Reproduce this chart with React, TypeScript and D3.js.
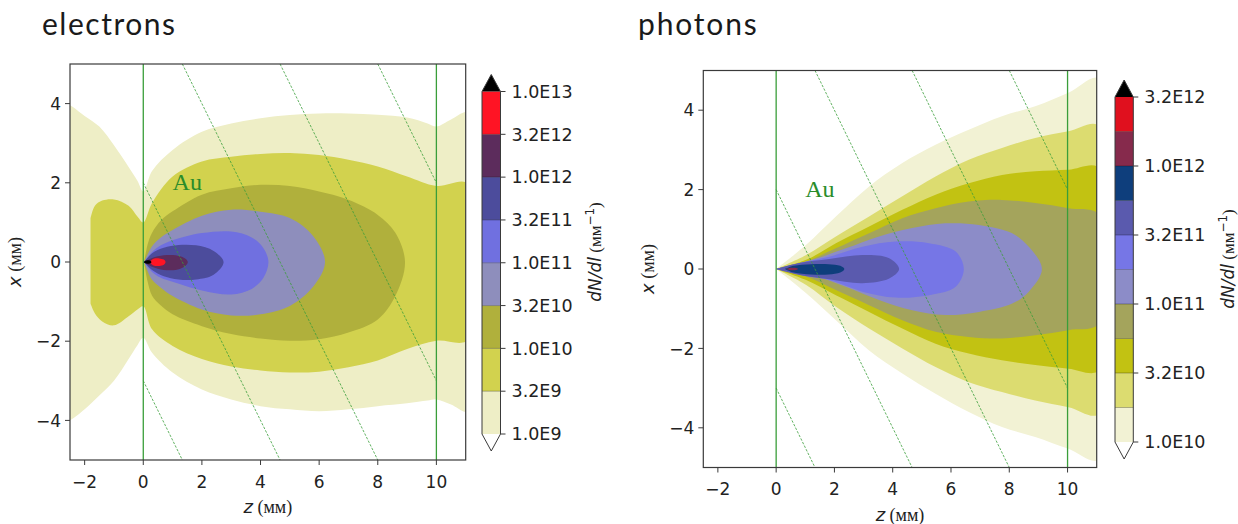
import React from 'react';
import * as d3 from 'd3';

// ---------- shared axis data ----------
const zTicks = [-2, 0, 2, 4, 6, 8, 10];
const xTicks = [-4, -2, 0, 2, 4];
const zDomain = [-2.5, 11];
const xDomain = [-5, 5];
const targetEdges = [0, 10];
const hatchOffsets = [-3, 2, 7, 12, 17];
const hatchSlope = -1.5;
const auPos = [1.0, 1.82];

// ---------- electrons ----------
const eLevelExp = [9, 9.5, 10, 10.5, 11, 11.5, 12, 12.5, 13];
const eLevelLabels = ['1.0E9', '3.2E9', '1.0E10', '3.2E10', '1.0E11', '3.2E11', '1.0E12', '3.2E12', '1.0E13'];
const eBandColors = ['#eeeec6', '#d2d24e', '#b0b03c', '#8e8ebc', '#7070e0', '#4c4c9c', '#5c2c5c', '#ff1424'];

const e0Z = [-2.6, -2.5, -2.0, -1.5, -1.0, -0.5, -0.2, 0, 0.3, 1, 2, 3, 4, 5, 6, 7, 8, 9, 9.7, 10, 10.5, 11.1];
const e0Top = [3.98, 3.96, 3.69, 3.42, 2.95, 2.4, 2.05, 1.78, 2.3, 2.83, 3.29, 3.5, 3.63, 3.71, 3.75, 3.75, 3.72, 3.65, 3.5, 3.42, 3.6, 3.77];
const e0Bot = [-4.02, -4.0, -3.72, -3.37, -3.0, -2.45, -2.1, -1.91, -2.29, -2.79, -3.22, -3.47, -3.64, -3.72, -3.77, -3.72, -3.64, -3.57, -3.5, -3.47, -3.6, -3.77];

const e1Z = [-1.8, -1.65, -1.4, -1.0, -0.5, -0.2, 0, 0.3, 1, 2, 3, 4, 5, 6, 7, 8, 9, 10, 11.1];
const e1Top = [1.1, 1.42, 1.55, 1.58, 1.42, 1.15, 1.0, 1.49, 2.16, 2.54, 2.66, 2.73, 2.75, 2.7, 2.58, 2.41, 2.16, 1.92, 1.97];
const e1Bot = [-1.05, -1.3, -1.5, -1.6, -1.37, -1.2, -1.12, -1.7, -2.12, -2.45, -2.64, -2.74, -2.79, -2.77, -2.66, -2.49, -2.2, -1.99, -1.96];

const e2Z = [0.03, 0.15, 0.3, 0.6, 1, 2, 3, 4, 5, 6, 7, 8, 8.6, 8.93];
const e2Top = [0, 0.45, 0.74, 1.05, 1.28, 1.7, 1.86, 1.95, 1.92, 1.78, 1.57, 1.19, 0.74, 0];
const e2Bot = [0, -0.5, -0.85, -1.1, -1.32, -1.62, -1.82, -1.93, -1.99, -1.95, -1.78, -1.45, -0.86, 0];

const e3Z = [0.03, 0.3, 0.6, 1, 2, 3, 4, 5, 5.8, 6.2];
const e3Top = [0, 0.4, 0.62, 0.81, 1.17, 1.32, 1.27, 1.11, 0.65, 0];
const e3Bot = [0, -0.45, -0.65, -0.86, -1.2, -1.35, -1.32, -1.11, -0.62, 0];

const e4Z = [0.03, 0.3, 0.6, 1, 2, 3, 3.7, 4.1, 4.27];
const e4Top = [0, 0.25, 0.42, 0.55, 0.73, 0.77, 0.62, 0.35, 0];
const e4Bot = [0, -0.25, -0.4, -0.5, -0.72, -0.82, -0.68, -0.4, 0];

const e5Z = [0.03, 0.3, 0.7, 1.2, 1.8, 2.4, 2.74];
const e5Top = [0, 0.22, 0.36, 0.43, 0.42, 0.28, 0];
const e5Bot = [0, -0.2, -0.36, -0.44, -0.44, -0.32, 0];

const e6Z = [0.03, 0.3, 0.7, 1.1, 1.4, 1.52];
const e6Top = [0, 0.1, 0.17, 0.17, 0.1, 0];
const e6Bot = [0, -0.12, -0.2, -0.2, -0.12, 0];

const e7Z = [0.22, 0.35, 0.55, 0.7, 0.76];
const e7Top = [0, 0.08, 0.09, 0.06, 0];
const e7Bot = [0, -0.09, -0.1, -0.07, 0];

const eOverZ = [0.0, 0.1, 0.22, 0.28];
const eOverTop = [0, 0.04, 0.04, 0];
const eOverBot = [0, -0.04, -0.04, 0];

// ---------- photons ----------
const pLevelExp = [10, 10.25, 10.5, 10.75, 11, 11.25, 11.5, 11.75, 12, 12.25, 12.5];
const pLabelExp = [10, 10.5, 11, 11.5, 12, 12.5];
const pLevelLabels = ['1.0E10', '3.2E10', '1.0E11', '3.2E11', '1.0E12', '3.2E12'];
const pBandColors = ['#f2f2d4', '#dcdc70', '#c2c212', '#a4a45c', '#8c8cc8', '#7676e6', '#5a5aae', '#0e3e7c', '#862a4c', '#e0101e'];

const pOuterZ = [0, 1.03, 2.05, 3.19, 4.33, 5.47, 6.61, 7.75, 8.89, 10.03, 11.1];
const p0Top = [0, 0.61, 1.32, 2.08, 2.67, 3.13, 3.51, 3.85, 4.1, 4.44, 4.8];
const p0Bot = [0, -0.61, -1.29, -2.05, -2.63, -3.14, -3.6, -3.98, -4.23, -4.53, -4.8];
const p1Top = [0, 0.35, 0.82, 1.32, 1.83, 2.33, 2.75, 3.05, 3.3, 3.47, 3.6];
const p1Bot = [0, -0.4, -0.95, -1.5, -2.0, -2.47, -2.85, -3.1, -3.31, -3.48, -3.65];
const p2Top = [0, 0.23, 0.65, 1.07, 1.49, 1.87, 2.16, 2.37, 2.46, 2.5, 2.54];
const p2Bot = [0, -0.28, -0.66, -1.08, -1.5, -1.88, -2.13, -2.3, -2.42, -2.51, -2.55];
const p3Top = [0, 0.19, 0.52, 0.9, 1.28, 1.53, 1.7, 1.74, 1.66, 1.53, 1.36];
const p3Bot = [0, -0.19, -0.53, -0.91, -1.29, -1.58, -1.71, -1.75, -1.67, -1.54, -1.37];

const p4Z = [0, 1.25, 2.39, 3.53, 4.67, 5.8, 6.96, 8.1, 8.67, 9.12];
const p4Top = [0, 0.23, 0.52, 0.82, 1.03, 1.15, 1.11, 0.9, 0.56, 0];
const p4Bot = [0, -0.15, -0.45, -0.78, -1.04, -1.16, -1.08, -0.87, -0.57, 0];

const p5Z = [0, 0.9, 1.82, 2.96, 4.1, 5.25, 6.16, 6.44];
const p5Top = [0, 0.17, 0.31, 0.56, 0.69, 0.65, 0.44, 0];
const p5Bot = [0, -0.16, -0.28, -0.57, -0.72, -0.66, -0.45, 0];

const p6Z = [0, 0.8, 1.82, 2.96, 3.88, 4.22];
const p6Top = [0, 0.15, 0.25, 0.35, 0.27, 0];
const p6Bot = [0, -0.15, -0.26, -0.36, -0.24, 0];

const p7Z = [0.3, 0.6, 1.2, 1.8, 2.2, 2.34];
const p7Top = [0, 0.08, 0.12, 0.12, 0.08, 0];
const p7Bot = [0, -0.09, -0.14, -0.14, -0.09, 0];

const p8Z = [0.35, 0.5, 0.65, 0.75];
const p8Top = [0, 0.03, 0.03, 0];
const p8Bot = [0, -0.03, -0.03, 0];

type Contour = { z: number[]; top: number[]; bot: number[]; color: string };

const eContours: Contour[] = [
  { z: e0Z, top: e0Top, bot: e0Bot, color: eBandColors[0] },
  { z: e1Z, top: e1Top, bot: e1Bot, color: eBandColors[1] },
  { z: e2Z, top: e2Top, bot: e2Bot, color: eBandColors[2] },
  { z: e3Z, top: e3Top, bot: e3Bot, color: eBandColors[3] },
  { z: e4Z, top: e4Top, bot: e4Bot, color: eBandColors[4] },
  { z: e5Z, top: e5Top, bot: e5Bot, color: eBandColors[5] },
  { z: e6Z, top: e6Top, bot: e6Bot, color: eBandColors[6] },
  { z: e7Z, top: e7Top, bot: e7Bot, color: eBandColors[7] },
  { z: eOverZ, top: eOverTop, bot: eOverBot, color: '#000000' },
];

const pContours: Contour[] = [
  { z: pOuterZ, top: p0Top, bot: p0Bot, color: pBandColors[0] },
  { z: pOuterZ, top: p1Top, bot: p1Bot, color: pBandColors[1] },
  { z: pOuterZ, top: p2Top, bot: p2Bot, color: pBandColors[2] },
  { z: pOuterZ, top: p3Top, bot: p3Bot, color: pBandColors[3] },
  { z: p4Z, top: p4Top, bot: p4Bot, color: pBandColors[4] },
  { z: p5Z, top: p5Top, bot: p5Bot, color: pBandColors[5] },
  { z: p6Z, top: p6Top, bot: p6Bot, color: pBandColors[6] },
  { z: p7Z, top: p7Top, bot: p7Bot, color: pBandColors[7] },
  { z: p8Z, top: p8Top, bot: p8Bot, color: pBandColors[8] },
];

const GREEN = '#3a9e3a';
const AXIS = '#3a3a3a';
const TICK_FONT = 'DejaVu Sans';

function fmt(v: number) {
  return v < 0 ? '\u2212' + Math.abs(v) : String(v);
}

function contourPoints(c: Contour): [number, number][] {
  const pts: [number, number][] = [];
  const n = c.z.length;
  for (let i = 0; i < n; i++) pts.push([c.z[i], c.top[i]]);
  for (let i = n - 1; i >= 0; i--) {
    if (i === n - 1 && c.top[i] === c.bot[i]) continue;
    pts.push([c.z[i], c.bot[i]]);
  }
  return pts;
}

type PanelProps = {
  id: string;
  left: number; right: number; top: number; bottom: number;
  contours: Contour[];
  title: string; titleX: number; titleLen: number;
};

function Panel({ id, left, right, top, bottom, contours, title, titleX, titleLen }: PanelProps) {
  const x = d3.scaleLinear().domain(zDomain).range([left, right]);
  const y = d3.scaleLinear().domain(xDomain).range([bottom, top]);
  const line = d3
    .line<[number, number]>()
    .x((d) => x(d[0]))
    .y((d) => y(d[1]))
    .curve(d3.curveCatmullRom.alpha(0.5));
  const hatch = hatchOffsets.map((c) => {
    const zA = (xDomain[1] - c) / hatchSlope;
    const zB = (xDomain[0] - c) / hatchSlope;
    const z0 = Math.max(targetEdges[0], Math.min(zA, zB));
    const z1 = Math.min(targetEdges[1], Math.max(zA, zB));
    return { z0, z1, c };
  }).filter((h) => h.z1 > h.z0);
  const midY = (top + bottom) / 2;
  const midX = (left + right) / 2;
  return (
    <g>
      <defs>
        <clipPath id={'clip-' + id}>
          <rect x={left} y={top} width={right - left} height={bottom - top} />
        </clipPath>
      </defs>
      <text x={titleX} y={35} fontFamily="Lato" fontSize={30} fill="#1a1a1a" textLength={titleLen} lengthAdjust="spacing">
        {title}
      </text>
      <g clipPath={`url(#clip-${id})`}>
        {contours.map((c, i) => (
          <path key={i} d={(line(contourPoints(c)) || '') + 'Z'} fill={c.color} stroke="none" />
        ))}
        {hatch.map((h, i) => (
          <line key={'h' + i} x1={x(h.z0)} y1={y(h.c + hatchSlope * h.z0)} x2={x(h.z1)} y2={y(h.c + hatchSlope * h.z1)}
            stroke={GREEN} strokeWidth={0.8} strokeDasharray="2.5,1.5" />
        ))}
        {targetEdges.map((t) => (
          <line key={'t' + t} x1={x(t)} x2={x(t)} y1={top} y2={bottom} stroke={GREEN} strokeWidth={1.3} />
        ))}
      </g>
      <text x={x(auPos[0])} y={y(auPos[1])} fontFamily="Liberation Serif" fontSize={24} fill="#2a8c2a">Au</text>
      <rect x={left} y={top} width={right - left} height={bottom - top} fill="none" stroke={AXIS} strokeWidth={1.2} />
      {zTicks.map((t) => (
        <g key={'zt' + t}>
          <line x1={x(t)} x2={x(t)} y1={bottom} y2={bottom + 5} stroke={AXIS} strokeWidth={1} />
          <text x={x(t)} y={bottom + 27.5} textAnchor="middle" fontFamily={TICK_FONT} fontSize={17} fill="#222">{fmt(t)}</text>
        </g>
      ))}
      {xTicks.map((t) => (
        <g key={'xt' + t}>
          <line x1={left - 5} x2={left} y1={y(t)} y2={y(t)} stroke={AXIS} strokeWidth={1} />
          <text x={left - 9} y={y(t)} dy="0.36em" textAnchor="end" fontFamily={TICK_FONT} fontSize={17} fill="#222">{fmt(t)}</text>
        </g>
      ))}
      <text x={midX} y={bottom + 53} textAnchor="middle" fontSize={18} fill="#222">
        <tspan fontFamily="DejaVu Sans" fontStyle="italic">z</tspan>
        <tspan fontFamily="Liberation Serif"> (мм)</tspan>
      </text>
      <text transform={`translate(${left - 49},${midY}) rotate(-90)`} textAnchor="middle" fontSize={18} fill="#222">
        <tspan fontFamily="DejaVu Sans" fontStyle="italic">x</tspan>
        <tspan fontFamily="Liberation Serif"> (мм)</tspan>
      </text>
    </g>
  );
}

type CbProps = {
  x: number; w: number; y0: number; y1: number;
  levels: number[]; colors: string[]; labelExp: number[]; labels: string[];
  labelX: number; labelY: number;
};

function Colorbar({ x, w, y0, y1, levels, colors, labelExp, labels, labelX, labelY }: CbProps) {
  const s = d3.scaleLinear().domain([levels[0], levels[levels.length - 1]]).range([y1, y0]);
  const ext = 17;
  const outline = `M${x},${y0} L${x + w / 2},${y0 - ext} L${x + w},${y0} L${x + w},${y1} L${x + w / 2},${y1 + ext} L${x},${y1} Z`;
  return (
    <g>
      {colors.map((c, i) => (
        <rect key={i} x={x} y={s(levels[i + 1])} width={w} height={s(levels[i]) - s(levels[i + 1])} fill={c} />
      ))}
      {levels.slice(1, -1).map((l, i) => (
        <line key={'b' + i} x1={x} x2={x + w} y1={s(l)} y2={s(l)} stroke="#000" strokeOpacity={0.35} strokeWidth={0.8} />
      ))}
      <path d={`M${x},${y0} L${x + w / 2},${y0 - ext} L${x + w},${y0} Z`} fill="#000" />
      <path d={`M${x},${y1} L${x + w / 2},${y1 + ext} L${x + w},${y1} Z`} fill="#fff" />
      <path d={outline} fill="none" stroke={AXIS} strokeWidth={1} />
      {labelExp.map((l, i) => (
        <g key={'t' + i}>
          <line x1={x + w} x2={x + w + 5} y1={s(l)} y2={s(l)} stroke={AXIS} strokeWidth={1} />
          <text x={x + w + 11} y={s(l)} dy="0.36em" fontFamily={TICK_FONT} fontSize={17.5} fill="#222">{labels[i]}</text>
        </g>
      ))}
      <text transform={`translate(${labelX},${labelY}) rotate(-90)`} textAnchor="middle" fontSize={17} fill="#222">
        <tspan fontFamily="DejaVu Sans" fontStyle="italic">dN/dl</tspan>
        <tspan fontFamily="Liberation Serif"> (мм</tspan>
        <tspan fontFamily="DejaVu Sans" fontSize={12} dy={-7}>−1</tspan>
        <tspan fontFamily="Liberation Serif" dy={7}>)</tspan>
      </text>
    </g>
  );
}

export default function App() {
  return (
    <svg width={1238} height={524} style={{ position: 'absolute', left: 0, top: 0, background: '#fff' }}>
      <Panel id="e" left={70} right={465.7} top={64} bottom={460} contours={eContours}
        title="electrons" titleX={42} titleLen={133} />
      <Colorbar x={482} w={18.5} y0={91.5} y1={434} levels={eLevelExp} colors={eBandColors}
        labelExp={eLevelExp} labels={eLevelLabels} labelX={601} labelY={252} />
      <Panel id="p" left={703.3} right={1096.7} top={70.5} bottom={467.5} contours={pContours}
        title="photons" titleX={638} titleLen={118.7} />
      <Colorbar x={1115} w={18.3} y0={97} y1={442} levels={pLevelExp} colors={pBandColors}
        labelExp={pLabelExp} labels={pLevelLabels} labelX={1234} labelY={259} />
    </svg>
  );
}
